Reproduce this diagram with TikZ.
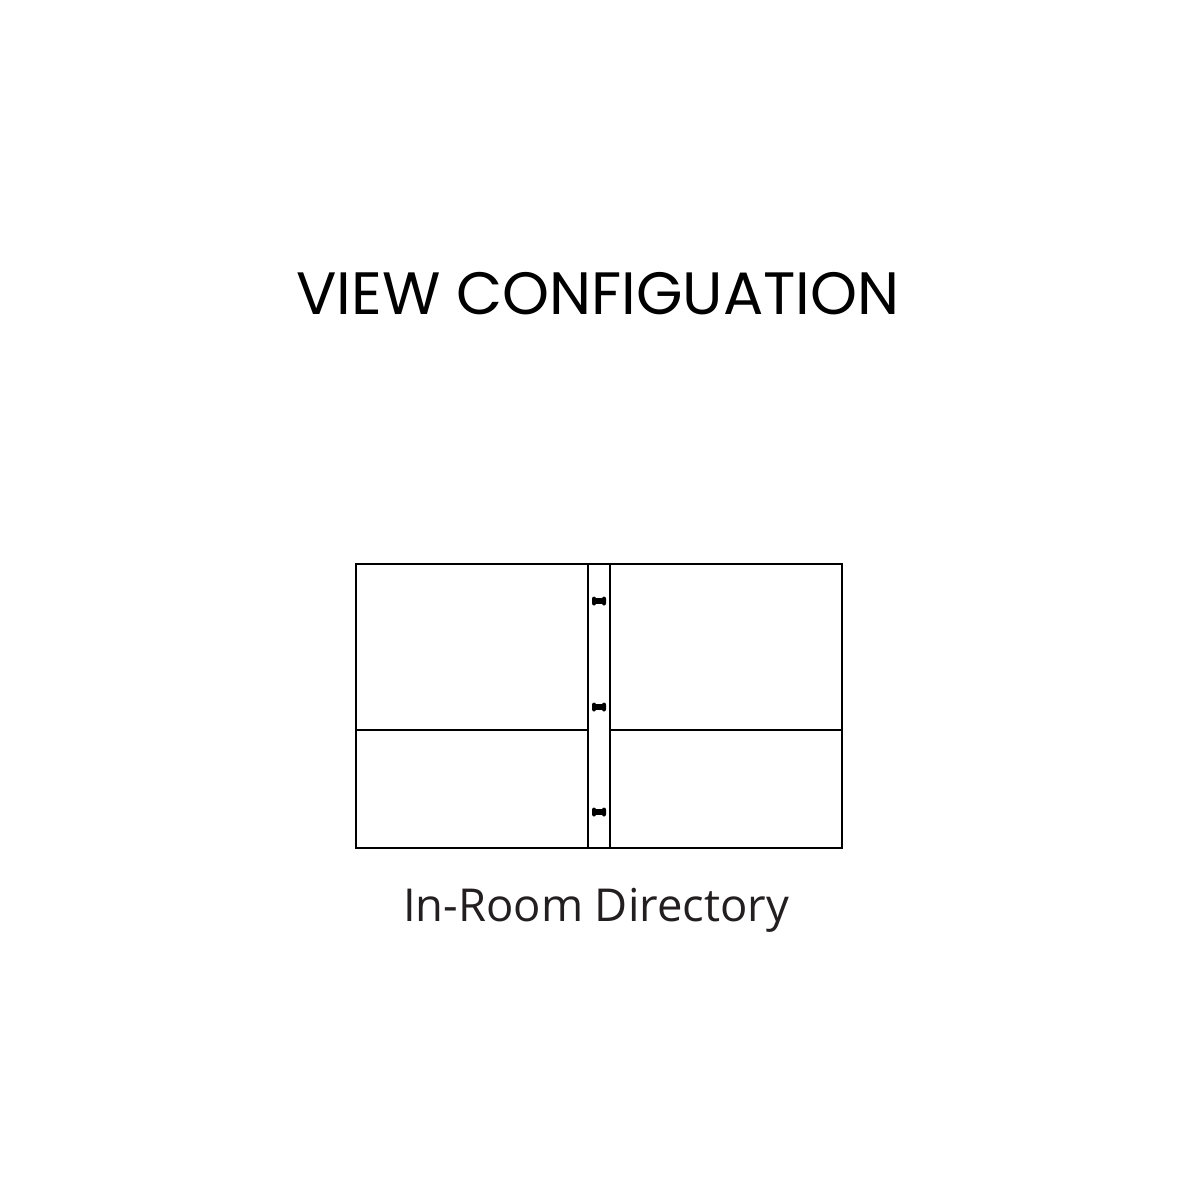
\documentclass[tikz,border=0pt]{standalone}
\usepackage{fontspec}
\setmainfont{Open Sans}
\newfontfamily\titlefont{Poppins}
\usetikzlibrary{positioning}
\definecolor{textgrey}{HTML}{231F20}

\begin{document}
\begin{tikzpicture}[x=0.01cm,y=-0.01cm,line width=0.45pt,inner sep=0pt]
\useasboundingbox (0,0) rectangle (1200,1200);
\node[anchor=base] (title) at (598,314) {\titlefont\fontsize{17}{19}\selectfont VIEW CONFIGUATION};
%
\draw (356,564) rectangle (842,848);
\draw (588,564) -- (588,848) (610,564) -- (610,848);
\draw (356,730) -- (588,730) (610,730) -- (842,730);
%% rings
\foreach \y in {601,707,812} {
  \fill[rounded corners=0.6pt] (592,\y-4.5) rectangle (596,\y+4.5);
  \fill[rounded corners=0.6pt] (602,\y-4.5) rectangle (606,\y+4.5);
  \fill (594,\y-3.2) rectangle (604,\y+3.2);
}
%
\node[anchor=base,text=textgrey] (label) at (596,921) {\fontsize{12.9}{15}\selectfont In-Room Directory};
\end{tikzpicture}
\end{document}
